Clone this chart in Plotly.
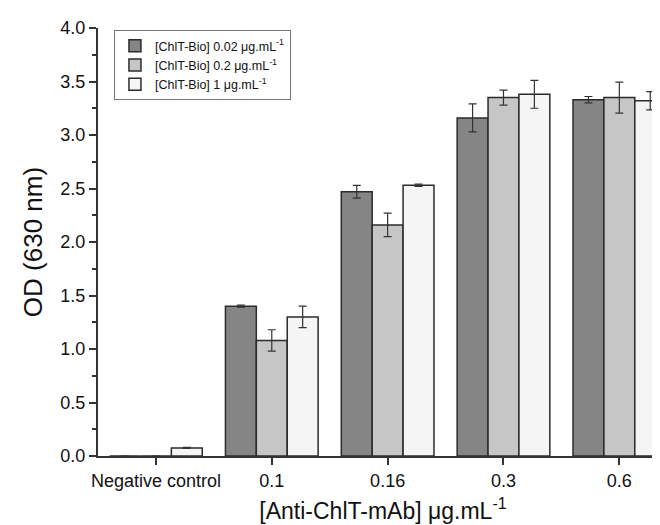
import plotly.graph_objects as go

categories = ["Negative control", "0.1", "0.16", "0.3", "0.6"]
series_names = [
    "[ChlT-Bio] 0.02 μg.mL<sup>-1</sup>",
    "[ChlT-Bio] 0.2 μg.mL<sup>-1</sup>",
    "[ChlT-Bio] 1 μg.mL<sup>-1</sup>",
]
vals_002 = [0.0, 1.40, 2.47, 3.16, 3.33]
err_002 = [0.0, 0.01, 0.06, 0.13, 0.03]
vals_02 = [0.0, 1.08, 2.16, 3.35, 3.35]
err_02 = [0.0, 0.10, 0.11, 0.07, 0.145]
vals_1 = [0.075, 1.30, 2.53, 3.38, 3.32]
err_1 = [0.005, 0.10, 0.01, 0.13, 0.085]

colors = ["#858585", "#c6c6c6", "#f5f5f5"]

fig = go.Figure()
for name, v, e, c in zip(series_names, [vals_002, vals_02, vals_1],
                         [err_002, err_02, err_1], colors):
    fig.add_trace(go.Bar(
        x=categories, y=v, name=name,
        marker=dict(color=c, line=dict(color="#2b2b2b", width=1.5)),
        error_y=dict(type="data", array=e, visible=True,
                     color="#333333", thickness=1.2, width=4),
    ))

font = "Liberation Sans, Arial, sans-serif"
fig.update_layout(
    width=660, height=525,
    margin=dict(l=90, r=0, t=20, b=77),
    barmode="group", bargap=0.2, bargroupgap=0,
    plot_bgcolor="white", paper_bgcolor="white",
    font=dict(family=font, size=18, color="#111"),
    showlegend=True,
    legend=dict(
        x=0.028, y=0.995, xanchor="left", yanchor="top",
        bgcolor="white", bordercolor="#777", borderwidth=1,
        font=dict(size=12.5, color="#111"),
        tracegroupgap=0, itemwidth=30,
    ),
    xaxis=dict(
        range=[-0.5, 4.42],
        showline=True, linecolor="#333", linewidth=2,
        ticks="outside", ticklen=7, tickwidth=2, tickcolor="#333",
        tickfont=dict(size=18),
        title=dict(text="[Anti-ChlT-mAb] μg.mL<sup>-1</sup>",
                   font=dict(size=23), standoff=13),
        showgrid=False, zeroline=False, automargin=False,
    ),
    yaxis=dict(
        range=[0, 4.0], dtick=0.5, tickformat=".1f",
        showline=True, linecolor="#333", linewidth=2,
        ticks="outside", ticklen=7, tickwidth=2, tickcolor="#333",
        minor=dict(dtick=0.25, ticks="outside", ticklen=4, tickwidth=2,
                   tickcolor="#333", showgrid=False),
        tickfont=dict(size=18),
        title=dict(text="OD (630 nm)", font=dict(size=26), standoff=10),
        showgrid=False, zeroline=False, automargin=False,
    ),
)

fig.write_html("out.html")
